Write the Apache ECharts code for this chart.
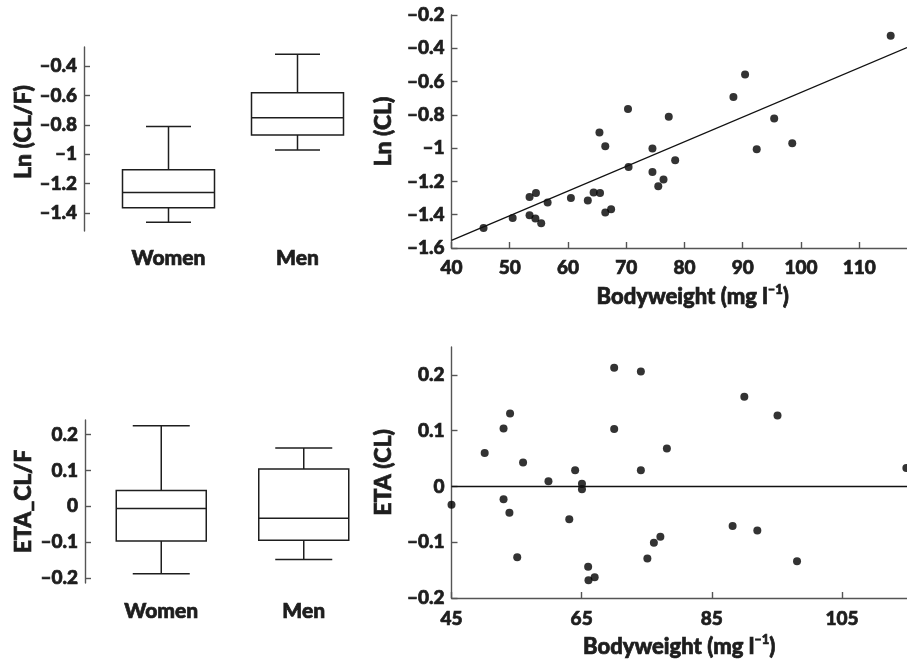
<!DOCTYPE html>
<html>
<head>
<meta charset="utf-8">
<title>CL vs bodyweight</title>
<script src="https://cdn.jsdelivr.net/npm/echarts@6.0.0/dist/echarts.min.js"></script>
<style>
  html, body { margin: 0; padding: 0; background: #fff; }
  #chart { width: 907px; height: 661px; }
</style>
</head>
<body>
<div id="chart"></div>
<script>
// groups for the box plots
var groups = ['Women', 'Men'];
// [low whisker, q1, median, q3, high whisker]
var lnClfWomen = [-1.463, -1.364, -1.261, -1.105, -0.811];
var lnClfMen = [-0.970, -0.868, -0.751, -0.580, -0.318];
var etaClfWomen = [-0.187, -0.096, -0.006, 0.044, 0.224];
var etaClfMen = [-0.148, -0.094, -0.033, 0.104, 0.162];

// Ln(CL) against bodyweight
var weightCL = [45.5, 50.5, 53.4, 54.5, 53.4, 54.4, 55.4, 56.5, 60.5, 63.4, 64.4, 65.5, 65.4, 66.4, 66.4,
  67.4, 70.3, 70.4, 74.5, 74.5, 75.5, 76.4, 77.3, 78.4, 88.4, 90.4, 92.4, 95.4, 98.5, 115.4];
var lnCL = [-1.48, -1.419, -1.293, -1.269, -1.403, -1.423, -1.452, -1.327, -1.299, -1.315, -1.267, -1.269, -0.906, -0.988, -1.387,
  -1.367, -0.765, -1.113, -1.002, -1.143, -1.229, -1.189, -0.812, -1.072, -0.693, -0.557, -1.006, -0.822, -0.970, -0.324];
// regression line end points
var regX = [40, 118.2];
var regY = [-1.554, -0.396];

// ETA(CL) against bodyweight
var weightEta = [45, 50.1, 53.0, 54.0, 53.0, 53.9, 55.1, 56.0, 59.9, 63.1, 64.0, 65.05, 65.05, 66.0, 66.05,
  67.0, 70.0, 70.0, 74.1, 74.1, 75.1, 76.1, 77.1, 78.1, 88.2, 90.0, 92.0, 95.1, 98.1, 114.9];
var etaCL = [-0.033, 0.060, 0.104, 0.131, -0.023, -0.047, -0.127, 0.043, 0.0095, -0.059, 0.029, 0.005, -0.005, -0.144, -0.168,
  -0.163, 0.213, 0.103, 0.206, 0.029, -0.129, -0.101, -0.090, 0.068, -0.071, 0.161, -0.079, 0.127, -0.134, 0.033];

// tick labels
var ticksLnClf = [-1.4, -1.2, -1, -0.8, -0.6, -0.4];
var ticksLnCL = [-1.6, -1.4, -1.2, -1, -0.8, -0.6, -0.4, -0.2];
var ticksEtaClf = [-0.2, -0.1, 0, 0.1, 0.2];
var ticksWeightTop = [40, 50, 60, 70, 80, 90, 100, 110];
var ticksWeightBottom = [45, 65, 85, 105];

var FONT = 'Lato';
var HEAVY = 900;
var INK = '#1e1e1e';
var AXIS = '#555';
// a thin outline makes the text as heavy as the original typeface
var THICK = { textBorderColor: INK, textBorderWidth: 0.7 };

function fmt(v) {
  return String(+(+v).toFixed(2)).replace('-', '\u2013');
}

function pairs(xs, ys) {
  return xs.map(function (x, i) { return [x, ys[i]]; });
}

function boxRows(a, b) {
  return [[0].concat(a), [1].concat(b)];
}

function txt(size, extra) {
  return Object.assign({ fontFamily: FONT, fontWeight: HEAVY, fontSize: size, color: INK }, THICK, extra || {});
}

// box with whiskers; caps are shorter than the box
function boxRenderer(boxW, capW) {
  return function (params, api) {
    var c = api.value(0);
    var lo = api.coord([c, api.value(1)]);
    var q1 = api.coord([c, api.value(2)]);
    var md = api.coord([c, api.value(3)]);
    var q3 = api.coord([c, api.value(4)]);
    var hi = api.coord([c, api.value(5)]);
    var x = lo[0];
    var st = { stroke: INK, fill: '#fff', lineWidth: 1.5 };
    var ln = { stroke: INK, lineWidth: 1.5 };
    return {
      type: 'group',
      children: [
        { type: 'line', shape: { x1: x, y1: q3[1], x2: x, y2: hi[1] }, style: ln },
        { type: 'line', shape: { x1: x - capW / 2, y1: hi[1], x2: x + capW / 2, y2: hi[1] }, style: ln },
        { type: 'line', shape: { x1: x, y1: q1[1], x2: x, y2: lo[1] }, style: ln },
        { type: 'line', shape: { x1: x - capW / 2, y1: lo[1], x2: x + capW / 2, y2: lo[1] }, style: ln },
        { type: 'rect', shape: { x: x - boxW / 2, y: q3[1], width: boxW, height: q1[1] - q3[1] }, style: st },
        { type: 'line', shape: { x1: x - boxW / 2, y1: md[1], x2: x + boxW / 2, y2: md[1] }, style: ln }
      ]
    };
  };
}

function catAxis(gridIndex, margin) {
  return {
    type: 'category', gridIndex: gridIndex, data: groups,
    axisLine: { show: false }, axisTick: { show: false },
    axisLabel: txt(21, { margin: margin })
  };
}

function valAxis(opt) {
  return {
    type: 'value',
    gridIndex: opt.grid,
    min: opt.min, max: opt.max,
    offset: opt.offset || 0,
    name: opt.name,
    nameLocation: 'middle',
    nameGap: opt.nameGap,
    nameTextStyle: txt(23, { padding: opt.namePad || 0, rich: opt.rich }),
    axisLine: { show: true, onZero: false, lineStyle: { color: AXIS, width: 1.4 } },
    axisTick: { show: true, inside: true, length: 6, customValues: opt.ticks, lineStyle: { color: AXIS, width: 1.4 } },
    axisLabel: txt(19, { customValues: opt.ticks, margin: opt.margin, formatter: fmt }),
    splitLine: { show: false }
  };
}

var superRich = {
  b: txt(22),
  s: txt(13, { padding: [0, 0, 15, 0] })
};
var weightName = '{b|Bodyweight (mg l}{s|\u20131}{b|)}';

var chart = echarts.init(document.getElementById('chart'));
chart.setOption({
  animation: false,
  backgroundColor: '#fff',
  grid: [
    { left: 104, top: 47, width: 258, height: 184 },
    { left: 451.5, top: 15, right: 0, height: 233 },
    { left: 90, top: 420, width: 285, height: 163 },
    { left: 451.5, top: 347, right: 0, height: 251 }
  ],
  xAxis: [
    catAxis(0, 17),
    valAxis({ grid: 1, min: 40, max: 118.2, ticks: ticksWeightTop, margin: 10,
      name: weightName, rich: superRich, nameGap: 35, namePad: [0, 0, 0, 27] }),
    catAxis(2, 18),
    valAxis({ grid: 3, min: 45, max: 115, ticks: ticksWeightBottom, margin: 11,
      name: weightName, rich: superRich, nameGap: 35 })
  ],
  yAxis: [
    valAxis({ grid: 0, min: -1.523, max: -0.268, offset: 20, ticks: ticksLnClf, margin: 7,
      name: 'Ln (CL/F)', nameGap: 49, namePad: [0, 0, 0, 14] }),
    valAxis({ grid: 1, min: -1.6, max: -0.2, ticks: ticksLnCL, margin: 7,
      name: 'Ln (CL)', nameGap: 55 }),
    valAxis({ grid: 2, min: -0.213, max: 0.24, offset: 5, ticks: ticksEtaClf, margin: 7,
      name: 'ETA_CL/F', nameGap: 50 }),
    valAxis({ grid: 3, min: -0.2, max: 0.25, ticks: ticksEtaClf, margin: 7,
      name: 'ETA (CL)', nameGap: 46 })
  ],
  series: [
    {
      type: 'custom', xAxisIndex: 0, yAxisIndex: 0,
      renderItem: boxRenderer(92, 45),
      encode: { x: 0, y: [1, 2, 3, 4, 5] },
      data: boxRows(lnClfWomen, lnClfMen)
    },
    {
      type: 'scatter', xAxisIndex: 1, yAxisIndex: 1,
      symbolSize: 8, itemStyle: { color: '#000' },
      data: pairs(weightCL, lnCL)
    },
    {
      type: 'line', xAxisIndex: 1, yAxisIndex: 1,
      symbol: 'none', lineStyle: { color: '#111', width: 1.3 },
      data: pairs(regX, regY)
    },
    {
      type: 'custom', xAxisIndex: 2, yAxisIndex: 2,
      renderItem: boxRenderer(90, 57),
      encode: { x: 0, y: [1, 2, 3, 4, 5] },
      data: boxRows(etaClfWomen, etaClfMen)
    },
    {
      type: 'scatter', xAxisIndex: 3, yAxisIndex: 3,
      symbolSize: 8, itemStyle: { color: '#000' },
      data: pairs(weightEta, etaCL),
      markLine: {
        silent: true, symbol: 'none', label: { show: false },
        lineStyle: { color: '#111', width: 1.3, type: 'solid' },
        data: [{ yAxis: 0 }]
      }
    }
  ]
});
</script>
</body>
</html>
